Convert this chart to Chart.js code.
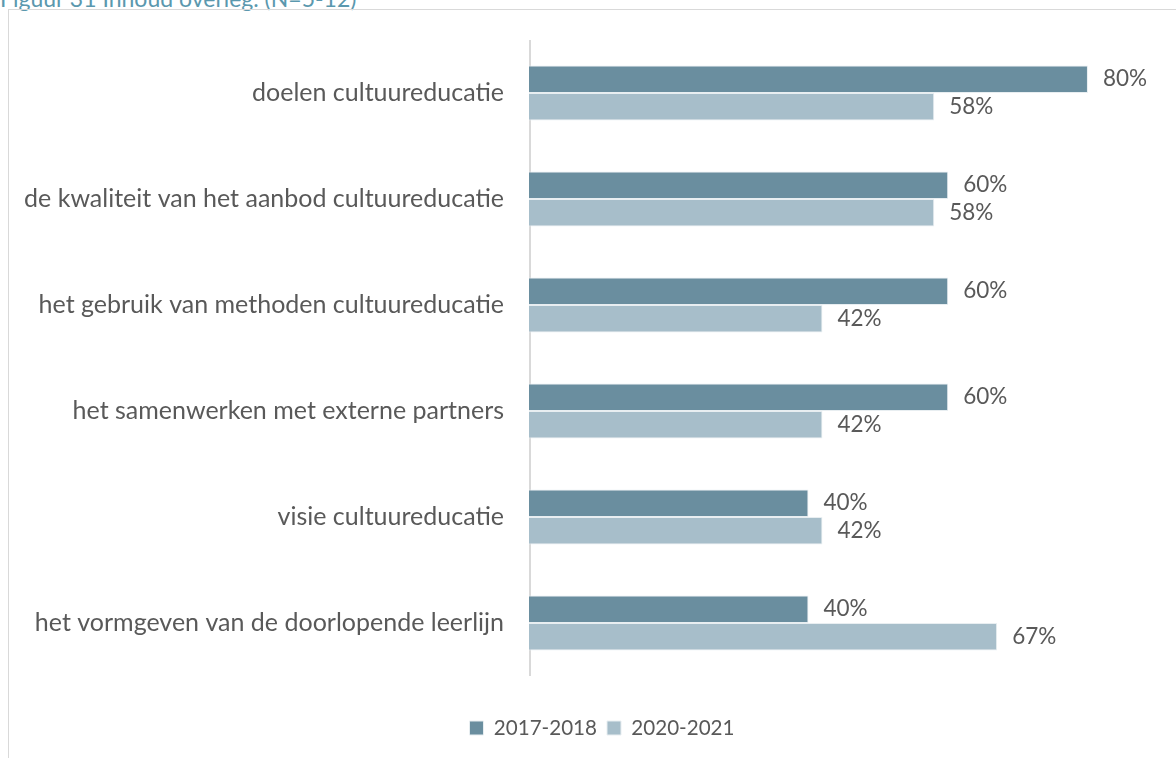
<!DOCTYPE html>
<html>
<head>
<meta charset="utf-8">
<script src="https://cdn.jsdelivr.net/npm/chart.js@4/dist/chart.umd.min.js"></script>
<style>
  html, body { margin: 0; padding: 0; background: #ffffff; overflow: hidden; }
  #wrap { position: relative; width: 1176px; height: 758px; }
  #title { position: absolute; left: 0px; top: -16px; font-family: Lato, "Open Sans", sans-serif; font-size: 23px; color: #5B98AE; white-space: nowrap; }
  #frame { position: absolute; left: 8px; top: 9px; width: 1180px; height: 760px; border: 1px solid #D9D9D9; box-sizing: border-box; }
  #c { position: absolute; left: 0; top: 0; }
</style>
</head>
<body>
<div id="wrap">
  <div id="title">Figuur 31 Inhoud overleg. (N=5-12)</div>
  <div id="frame"></div>
  <canvas id="c" width="1176" height="758"></canvas>
</div>
<script>
const categories = [
  "doelen cultuureducatie",
  "de kwaliteit van het aanbod cultuureducatie",
  "het gebruik van methoden cultuureducatie",
  "het samenwerken met externe partners",
  "visie cultuureducatie",
  "het vormgeven van de doorlopende leerlijn"
];
const seriesNames = ["2017-2018", "2020-2021"];
const values2017 = [80, 60, 60, 60, 40, 40];
const values2020 = [58, 58, 42, 42, 42, 67];
const colors = ["#6A8E9F", "#A7BECA"];

const FONT = 'Lato, "Open Sans", sans-serif';
const TEXT = "#595959";

const valueLabels = {
  id: "valueLabels",
  afterDatasetsDraw(chart) {
    const ctx = chart.ctx;
    ctx.save();
    ctx.font = "22.5px " + FONT;
    ctx.fillStyle = TEXT;
    ctx.textAlign = "left";
    ctx.textBaseline = "middle";
    chart.data.datasets.forEach((ds, i) => {
      const meta = chart.getDatasetMeta(i);
      meta.data.forEach((bar, j) => {
        ctx.fillText(ds.data[j] + "%", bar.x + 15, bar.y);
      });
    });
    ctx.restore();
  }
};

const axisLine = {
  id: "axisLine",
  beforeDatasetsDraw(chart) {
    const ctx = chart.ctx;
    const a = chart.chartArea;
    ctx.save();
    ctx.strokeStyle = "#D9D9D9";
    ctx.lineWidth = 2;
    ctx.beginPath();
    ctx.moveTo(a.left + 1, a.top);
    ctx.lineTo(a.left + 1, a.bottom);
    ctx.stroke();
    ctx.restore();
  }
};

new Chart(document.getElementById("c"), {
  type: "bar",
  data: {
    labels: categories,
    datasets: [
      { label: seriesNames[0], data: values2017, backgroundColor: colors[0], borderColor: "#E8EEF1", borderWidth: 1 },
      { label: seriesNames[1], data: values2020, backgroundColor: colors[1], borderColor: "#E8EEF1", borderWidth: 1 }
    ]
  },
  options: {
    indexAxis: "y",
    responsive: false,
    animation: false,
    layout: { padding: { top: 38, right: -28, bottom: 9.7, left: 0 } },
    datasets: { bar: { categoryPercentage: 0.52, barPercentage: 1.0 } },
    scales: {
      x: {
        min: 0, max: 92.6,
        display: true,
        ticks: { display: false },
        grid: { display: false, drawTicks: false },
        border: { display: false },
        afterFit(scale) { scale.height = 31.7; }
      },
      y: {
        ticks: { color: TEXT, font: { family: FONT, size: 25 }, padding: 25 },
        grid: { display: false, drawTicks: false },
        border: { display: false },
        afterFit(scale) { scale.width = 529; }
      }
    },
    plugins: {
      legend: {
        position: "bottom",
        labels: { color: TEXT, font: { family: FONT, size: 20.6 }, boxWidth: 14, boxHeight: 14, padding: 10, useBorderRadius: false }
      },
      tooltip: { enabled: false }
    }
  },
  plugins: [axisLine, valueLabels]
});
</script>
</body>
</html>
